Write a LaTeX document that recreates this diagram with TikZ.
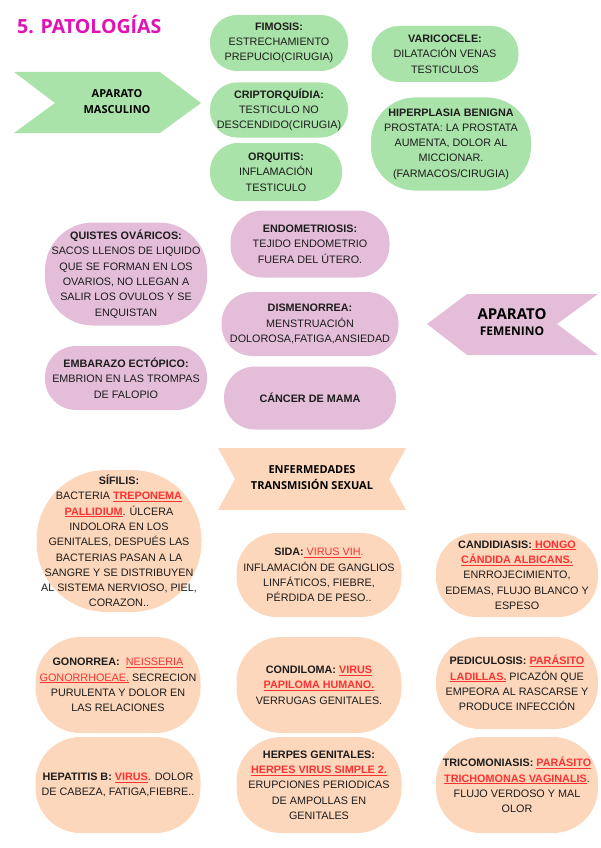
\documentclass[tikz,border=0pt]{standalone}
\usepackage{fontspec}
\setmainfont{Liberation Sans}
\newfontfamily\headfont{Open Sans}
\usetikzlibrary{positioning}

\definecolor{verde}{HTML}{A9E3A9}
\definecolor{rosa}{HTML}{E4BED9}
\definecolor{melocoton}{HTML}{FDD7BB}
\definecolor{rojo}{HTML}{FF3131}
\definecolor{tinta}{HTML}{1C1C1C}
\definecolor{magenta}{HTML}{E012B4}

\newcommand\rojo[1]{\textcolor{rojo}{\underline{#1}}}
\newcommand\rojob[1]{\textcolor{rojo}{\underline{\textbf{#1}}}}

\tikzset{
  caja/.style={rectangle, align=center, inner sep=0pt, text=tinta,
    font=\fontsize{10.8}{15.3}\selectfont},
  cajav/.style={caja, fill=verde},
  cajar/.style={caja, fill=rosa},
  cajam/.style={caja, fill=melocoton},
  flecha/.style={align=center, inner sep=0pt, text=black,
    font=\headfont\bfseries\fontsize{11}{16}\selectfont},
  titulo/.style={inner sep=0pt, text=magenta,
    font=\headfont\bfseries\fontsize{19.5}{20}\selectfont}
}

\begin{document}
\begin{tikzpicture}[x=1pt,y=-1pt]
    \useasboundingbox (0,0) rectangle (600,848);

    \node[titulo, anchor=west] (titulo) at (17,25) {5. PATOLOGÍAS};

    % aparato masculino
    \fill[verde] (14,72) -- (160,72) -- (201,103) -- (160,133) -- (14,133) -- (55,103) -- cycle;
    \node[flecha] (masculino) at (117,102) {APARATO\\MASCULINO};

    \node[cajav, minimum width=138, minimum height=56, rounded corners=27pt] (fimosis) at (279,43)
        {\textbf{FIMOSIS:}\\ESTRECHAMIENTO\\PREPUCIO(CIRUGIA)};
    \node[cajav, minimum width=147, minimum height=56, rounded corners=27pt] (varicocele) at (445,54)
        {\textbf{VARICOCELE:}\\DILATACIÓN VENAS\\TESTICULOS};
    \node[cajav, minimum width=138, minimum height=55, rounded corners=27pt] (cripto) at (279,110)
        {\textbf{CRIPTORQUÍDIA:}\\TESTICULO NO\\DESCENDIDO(CIRUGIA)};
    \node[cajav, minimum width=132, minimum height=58, rounded corners=28pt] (orquitis) at (276,172)
        {\textbf{ORQUITIS:}\\INFLAMACIÓN\\TESTICULO};
    \node[cajav, minimum width=160, minimum height=93, rounded corners=44pt] (hiperplasia) at (451,144)
        {\textbf{HIPERPLASIA BENIGNA}\\PROSTATA: LA PROSTATA\\AUMENTA, DOLOR AL\\MICCIONAR.\\(FARMACOS/CIRUGIA)};

    % aparato femenino
    \fill[rosa] (427,324) -- (467,294) -- (598,294) -- (557,324) -- (598,355) -- (467,355) -- cycle;
    \node[flecha] (femenino) at (512,322) {{\fontsize{15}{18}\selectfont APARATO}\\{\fontsize{12}{15}\selectfont FEMENINO}};

    \node[cajar, minimum width=159, minimum height=67, rounded corners=32pt] (endometriosis) at (310,244)
        {\textbf{ENDOMETRIOSIS:}\\TEJIDO ENDOMETRIO\\FUERA DEL ÚTERO.};
    \node[cajar, minimum width=162, minimum height=103, rounded corners=48pt] (quistes) at (126,274)
        {\textbf{QUISTES OVÁRICOS:}\\SACOS LLENOS DE LIQUIDO\\QUE SE FORMAN EN LOS\\OVARIOS, NO LLEGAN A\\SALIR LOS OVULOS Y SE\\ENQUISTAN};
    \node[cajar, minimum width=177, minimum height=64, rounded corners=31pt] (dismenorrea) at (310,324)
        {\textbf{DISMENORREA:}\\MENSTRUACIÓN\\DOLOROSA,FATIGA,ANSIEDAD};
    \node[cajar, minimum width=162, minimum height=64, rounded corners=31pt] (embarazo) at (126,378)
        {\textbf{EMBARAZO ECTÓPICO:}\\EMBRION EN LAS TROMPAS\\DE FALOPIO};
    \node[cajar, minimum width=172, minimum height=63, rounded corners=31pt] (cancer) at (310,398)
        {\textbf{CÁNCER DE MAMA}};

    % transmision sexual
    \fill[melocoton] (218,448) -- (406,448) -- (389,479) -- (406,510) -- (218,510) -- (235,479) -- cycle;
    \node[flecha] (ets) at (312,478) {ENFERMEDADES\\TRANSMISIÓN SEXUAL};

    \node[cajam, minimum width=165, minimum height=142, rounded corners=70pt] (sifilis) at (119,541)
        {\textbf{SÍFILIS:}\\BACTERIA \rojob{TREPONEMA}\\\rojob{PALLIDIUM}. ÚLCERA\\INDOLORA EN LOS\\GENITALES, DESPUÉS LAS\\BACTERIAS PASAN A LA\\SANGRE Y SE DISTRIBUYEN\\AL SISTEMA NERVIOSO, PIEL,\\CORAZON..};
    \node[cajam, minimum width=165, minimum height=84, rounded corners=40pt] (sida) at (319,575)
        {\textbf{SIDA:}\rojo{\ VIRUS VIH}\textcolor{rojo}{.}\\INFLAMACIÓN DE GANGLIOS\\LINFÁTICOS, FIEBRE,\\PÉRDIDA DE PESO..};
    \node[cajam, minimum width=162, minimum height=84, rounded corners=40pt] (candidiasis) at (517,575)
        {\textbf{CANDIDIASIS:}\rojob{\ HONGO}\\\rojob{CÁNDIDA ALBICANS.}\\ENRROJECIMIENTO,\\EDEMAS, FLUJO BLANCO Y\\ESPESO};
    \node[cajam, minimum width=165, minimum height=96, rounded corners=45pt] (gonorrea) at (118,685)
        {\textbf{GONORREA:}\ \ \rojo{NEISSERIA}\\\rojo{GONORRHOEAE.} SECRECION\\PURULENTA Y DOLOR EN\\LAS RELACIONES};
    \node[cajam, minimum width=165, minimum height=96, rounded corners=45pt] (condiloma) at (319,685)
        {\textbf{CONDILOMA:} \rojob{VIRUS}\\\rojob{PAPILOMA HUMANO.}\\VERRUGAS GENITALES.};
    \node[cajam, minimum width=162, minimum height=92, rounded corners=44pt] (pediculosis) at (517,683)
        {\textbf{PEDICULOSIS:} \rojob{PARÁSITO}\\\rojob{LADILLAS.} PICAZÓN QUE\\EMPEORA AL RASCARSE Y\\PRODUCE INFECCIÓN};
    \node[cajam, minimum width=165, minimum height=96, rounded corners=45pt] (hepatitis) at (118,785)
        {\textbf{HEPATITIS B:} \rojob{VIRUS}. DOLOR\\DE CABEZA, FATIGA,FIEBRE..};
    \node[cajam, minimum width=165, minimum height=96, rounded corners=45pt] (herpes) at (319,785)
        {\textbf{HERPES GENITALES:}\\\rojob{HERPES VIRUS SIMPLE 2.}\\ERUPCIONES PERIODICAS\\DE AMPOLLAS EN\\GENITALES};
    \node[cajam, minimum width=162, minimum height=96, rounded corners=45pt] (tricomoniasis) at (517,785)
        {\textbf{TRICOMONIASIS:} \rojob{PARÁSITO}\\\rojob{TRICHOMONAS VAGINALIS}.\\FLUJO VERDOSO Y MAL\\OLOR};
\end{tikzpicture}
\end{document}
